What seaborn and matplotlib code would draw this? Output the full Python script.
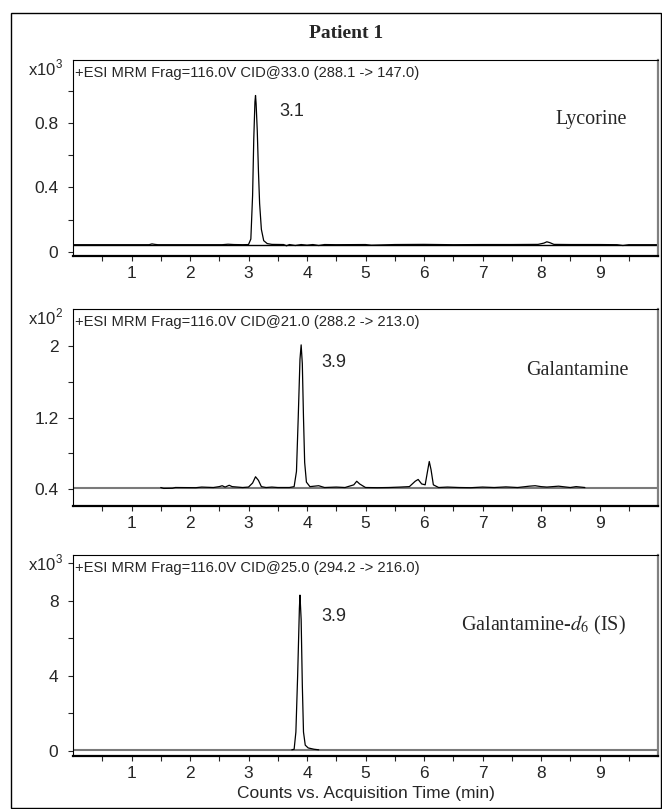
import matplotlib
matplotlib.use("Agg")
import matplotlib.pyplot as plt
import seaborn as sns
import pandas as pd
from matplotlib.patches import Rectangle

# ---- data ----
# Lycorine, counts x10^3
lyc_t = [0.0, 1.30, 1.35, 1.40, 1.45, 2.55, 2.65, 2.75, 2.90, 3.00,
         3.04, 3.07, 3.09, 3.11, 3.12, 3.13, 3.15, 3.17, 3.19, 3.22,
         3.26, 3.32, 3.40, 3.60, 3.65, 3.70, 3.80, 3.90, 4.00, 4.10,
         4.20, 4.30, 4.50, 5.00, 5.10, 5.50, 6.00, 6.50, 7.00, 7.50,
         7.95, 8.05, 8.10, 8.15, 8.22, 8.50, 9.00, 9.30, 9.40, 9.50,
         10.0]
lyc_y = [0.045, 0.045, 0.050, 0.047, 0.045, 0.045, 0.048, 0.046, 0.045, 0.046,
         0.080, 0.350, 0.700, 0.930, 0.970, 0.920, 0.750, 0.500, 0.300, 0.140,
         0.070, 0.052, 0.047, 0.046, 0.038, 0.046, 0.040, 0.046, 0.042, 0.046,
         0.040, 0.046, 0.045, 0.046, 0.042, 0.046, 0.047, 0.045, 0.046, 0.046,
         0.047, 0.055, 0.063, 0.058, 0.047, 0.046, 0.046, 0.045, 0.040, 0.045,
         0.045]

# Galantamine, counts x10^2
gal_t = [1.50, 1.55, 1.70, 1.75, 2.10, 2.20, 2.40, 2.50, 2.55,
         2.60, 2.67, 2.72, 2.90, 3.00, 3.07, 3.12, 3.17, 3.22, 3.30,
         3.40, 3.50, 3.70, 3.78, 3.82, 3.85, 3.88, 3.90, 3.92, 3.94,
         3.96, 3.99, 4.05, 4.20, 4.30, 4.50, 4.65, 4.80, 4.85, 4.90,
         5.00, 5.20, 5.40, 5.60, 5.75, 5.85, 5.90, 5.96, 6.02, 6.06,
         6.09, 6.12, 6.16, 6.25, 6.40, 6.60, 6.80, 7.00, 7.20, 7.40,
         7.60, 7.80, 7.90, 8.00, 8.10, 8.30, 8.50, 8.60, 8.75]
gal_y = [0.420, 0.410, 0.412, 0.420, 0.418, 0.425, 0.420, 0.430, 0.440,
         0.425, 0.445, 0.430, 0.420, 0.425, 0.470, 0.540, 0.500, 0.430, 0.420,
         0.425, 0.420, 0.420, 0.430, 0.600, 1.200, 1.850, 2.010, 1.800, 1.200,
         0.700, 0.480, 0.430, 0.440, 0.420, 0.425, 0.420, 0.450, 0.490, 0.460,
         0.420, 0.418, 0.420, 0.425, 0.430, 0.490, 0.510, 0.460, 0.450, 0.600,
         0.710, 0.620, 0.450, 0.420, 0.425, 0.420, 0.418, 0.425, 0.420, 0.427,
         0.420, 0.435, 0.440, 0.430, 0.425, 0.435, 0.420, 0.430, 0.420]

# Galantamine-d6 (IS), counts x10^3
is_t = [3.74, 3.78, 3.81, 3.84, 3.87, 3.88, 3.90, 3.92, 3.94,
        3.97, 4.02, 4.12, 4.20]
is_y = [0.05, 0.08, 1.00, 4.00, 7.60, 8.30, 7.00, 3.50, 1.00,
        0.30, 0.15, 0.08, 0.05]

baselines = [0.045, 0.42, 0.05]
exponents = [3, 2, 3]
transitions = ["+ESI MRM Frag=116.0V CID@33.0 (288.1 -> 147.0)",
               "+ESI MRM Frag=116.0V CID@21.0 (288.2 -> 213.0)",
               "+ESI MRM Frag=116.0V CID@25.0 (294.2 -> 216.0)"]
compounds = ["Lycorine", "Galantamine", r"Galantamine-$\mathit{d}_{\mathit{6}}$ (IS)"]
rt_labels = ["3.1", "3.9", "3.9"]
rt_pos = [(3.52, 0.87), (4.24, 1.815), (4.24, 7.18)]
name_pos = [(8.85, 0.82), (8.63, 1.72), (8.05, 6.70)]
ylims = [(-0.025, 1.19), (0.214, 2.41), (-0.28, 10.44)]
major = [[0, 0.4, 0.8], [0.4, 1.2, 2], [0, 4, 8]]
minor = [[0.2, 0.6, 1.0], [0.8, 1.6], [2, 6, 10]]
major_lbl = [["0", "0.4", "0.8"], ["0.4", "1.2", "2"], ["0", "4", "8"]]

sns.set_style("ticks")
plt.rcParams["font.family"] = ["Liberation Sans", "DejaVu Sans"]
plt.rcParams["mathtext.fontset"] = "stix"

traces = [pd.DataFrame({"t": lyc_t, "y": lyc_y}),
          pd.DataFrame({"t": gal_t, "y": gal_y}),
          pd.DataFrame({"t": is_t, "y": is_y})]

fig = plt.figure(figsize=(6.62, 8.09), dpi=100)
fig.patches.append(Rectangle((11 / 662, 0.001), 650 / 662, 795 / 809,
                             transform=fig.transFigure, fill=False,
                             edgecolor="black", linewidth=1.0))
fig.text(346 / 662, 1 - 34 / 809, "Patient 1", ha="center", va="center",
         fontsize=14, fontweight="bold", family="Liberation Serif")

boxes = [(60, 256), (309, 506), (555, 756)]
for i, (top, bot) in enumerate(boxes):
    ax = fig.add_axes([73 / 662, 1 - bot / 809, 585 / 662, (bot - top) / 809])
    base_col = "black" if i == 0 else "#7a7a7a"
    ax.axhline(baselines[i], color=base_col, lw=1.0 if i == 0 else 1.5, zorder=1)
    sns.lineplot(data=traces[i], x="t", y="y", ax=ax, color="black",
                 linewidth=0.9, sort=False, estimator=None, zorder=2)
    ax.set_xlim(0, 10)
    ax.set_ylim(*ylims[i])
    ax.set_xticks(range(1, 10))
    ax.set_xticklabels([str(k) for k in range(1, 10)])
    ax.set_xticks([k / 2 for k in range(1, 21, 2)], minor=True)
    ax.set_yticks(major[i])
    ax.set_yticklabels(major_lbl[i])
    ax.set_yticks(minor[i], minor=True)
    ax.tick_params(axis="both", which="both", direction="out", length=3.5,
                   width=0.8, labelsize=12.5)
    ax.tick_params(axis="y", which="both", pad=7)
    ax.tick_params(axis="x", which="both", pad=4)
    ax.set_xlabel("")
    ax.set_ylabel("")
    for side in ["top", "left"]:
        ax.spines[side].set_linewidth(0.8)
        ax.spines[side].set_color("black")
    ax.spines["right"].set_color("#808080")
    ax.spines["right"].set_linewidth(1.6)
    ax.spines["bottom"].set_linewidth(1.6)
    ax.spines["bottom"].set_color("black")

    ax.annotate(r"x10$^{\mathregular{%d}}$" % exponents[i], xy=(0, 1),
                xycoords="axes fraction", xytext=(-7, -11),
                textcoords="offset points", ha="right", va="baseline",
                fontsize=12)
    ax.annotate(transitions[i], xy=(0, 1), xycoords="axes fraction",
                xytext=(1.5, -4.5), textcoords="offset points", ha="left",
                va="top", fontsize=10.6)
    ax.text(rt_pos[i][0], rt_pos[i][1], rt_labels[i], ha="left",
            va="center", fontsize=13)
    ax.text(name_pos[i][0], name_pos[i][1], compounds[i], ha="center",
            va="center", fontsize=14.5, family="Liberation Serif")
    if i == 2:
        ax.set_xlabel("Counts vs. Acquisition Time (min)", fontsize=12.5,
                      labelpad=3)

fig.savefig("out.png", dpi=100)
